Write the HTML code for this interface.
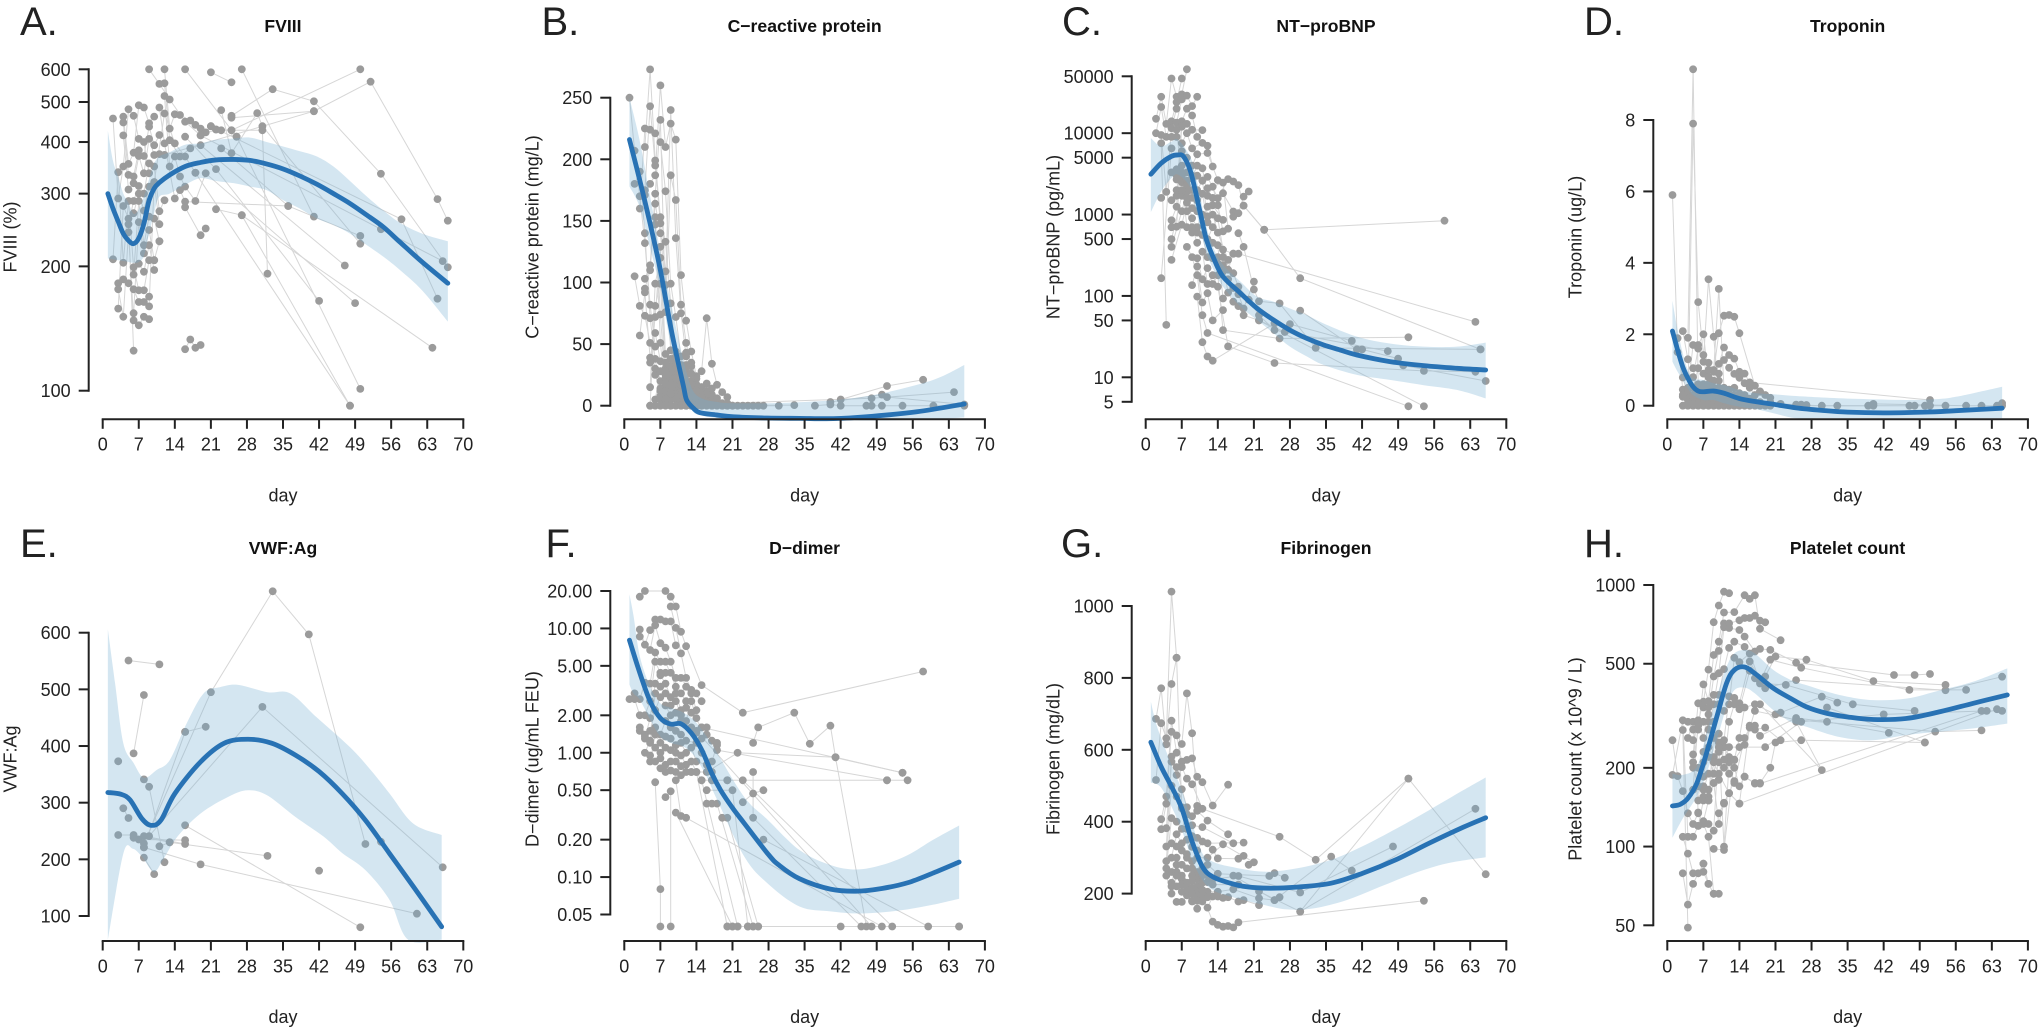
<!DOCTYPE html>
<html lang="en">
<head>
<meta charset="utf-8">
<title>Biomarker trajectories by day</title>
<style>
html,body{margin:0;padding:0;background:#fff;}
svg{display:block;font-family:"Liberation Sans",Arial,sans-serif;}
</style>
</head>
<body>
<svg id="figure" xmlns="http://www.w3.org/2000/svg" width="2040" height="1031" viewBox="0 0 2040 1031"></svg>
<script>
const dayTicks = [0,7,14,21,28,35,42,49,56,63,70];

/* ---------- A. FVIII ---------- */
const fviiiTicks = [100,200,300,400,500,600];
const fviiiDays = [1,2,3,4,5,6,7,8,9,10,11,13,16,19,22,25.4,28.6,31.8,35.1,38.3,41.6,44.8,48,51.3,54.5,57.7,62,67];
const fviiiFit = [300,276,257,240,231,227,234,254,289,309,319,333,349,357,362,363,361,354,344,331,316,300,284,266,249,229,205,182];
const fviiiUpper = [426,360,330,300,285,268,275,295,325,355,369,378,394,397,405,408,410,400,390,380,369,349,322,295,273,255,240,230];
const fviiiLower = [209,208,207,206,205,204,205,212,240,270,295,300,315,327,322,318,312,306,289,276,261,252,240,225,211,196,175,147];
const fviiiTracks = [
[2,456,3,292,4,349,5,480,6,463,7,407,8,400,9,336],
[2,208,3,338,4,204,5,288,6,199,7,175],
[3,182,4,186,5,182,6,176,7,164,8,164,9,169],
[3,176,4,151,5,242,6,148,7,144,8,151,9,149],
[3,158,4,280,5,261,6,125],
[4,461,5,354,6,377,7,491,8,485,9,444,10,461],
[4,446,5,333,6,330,7,382,8,370,9,436,10,393,11,416],
[4,415,5,307,6,318,7,370,8,336,9,407,10,372,11,374,12,372],
[5,253,6,288,7,313,8,300,9,355,10,349,11,272,12,289],
[6,269,7,300,8,273,9,312,10,320,11,253],
[6,191,7,288,8,225,9,264,10,261,11,230],
[6,154,7,256,8,215,9,245,10,207],
[7,203,8,194,9,225,10,196],
[8,175,9,207,10,207,11,230],
[9,600,11,553,13,507,16,448,19,415,22,429,25,427],
[9,160,10,320,12,469,14,397,16,369,18,337],
[12,600,13,431,14,467,15,465,17,451,18,440,19,431,20,422,21,437,22,429],
[12,555,13,404,15,369,17,386,19,393,47,201],
[12,517,13,349,14,369,15,330,16,312,18,288,20,336,49,163],
[11,485,12,397,14,292,15,306,16,287,36,280],
[16,600,26,412],
[21,590,25,558],
[27,600,41,264],
[16,412,22,344,42,165],
[16,278,19,238,20,247],
[16,126,17,133,18,127,19,129],
[23,478,25,376,30,470,31,437,50,227],
[25,463,33,537,41,502,54,335,67,199],
[25,458,41,475,52,560,65,291,67,258],
[25,427,50,600],
[23,427,31,427,32,192],
[23,386,36,280,50,237],
[26,412,50,101],
[22,275,27,266,48,92],
[18,337,48,92],
[19,415,54,246,66,206],
[21,437,58,260,65,167],
[27,266,64,127],
[12,372,41,475]
];

/* ---------- B. C-reactive protein ---------- */
const crpTicks = [0,50,100,150,200,250];
const crpDays = [1,3,5,7,9,10.2,11.5,12.1,13.4,14.7,17.9,21.2,27.7,34,40.6,47,56.8,66];
const crpFit = [216,183,148,110,64,40,15.5,4.6,-2,-5.7,-7.5,-9,-10,-10.3,-10.5,-9,-4.9,1.4];
const crpBandDays = [1,3,5,7,9,11,13,15,18,21,28,35,42,50,60,66];
const crpUpper = [250,215,170,125,85,45,15,6,3,2,2,3,5,10,21,33];
const crpLower = [178,161,128,95,50,20,-3,-8,-10,-11,-12,-12,-12,-12,-11,-9.5];
const crpTracks = [
[1,250,2,207,3,170,4,132,5,82,6,48],
[2,180,3,190,4,140,5,71,6,38,7,14],
[2,105,3,81,4,73,5,51,6,30,7,20,8,8,9,0],
[3,160,4,225,5,224,6,221,7,214,8,174,9,99,10,72,11,40,12,20,13,5,14,0],
[3,57,4,92,5,39,6,25,7,12,8,3],
[4,210,5,273,6,199,7,153,8,133,9,83,10,40,11,25,12,10,13,0],
[4,175,5,243,6,195,7,148,8,109,9,45,10,22,11,12,12,0],
[4,171,5,180,6,187,7,260,8,210,9,229,10,216,11,106,12,69,13,44,14,24,15,15,16,5,17,0],
[4,103,5,114,6,172,7,232,8,76,9,187,10,167,11,82,12,51,13,32,14,10,15,0],
[4,95,5,110,6,164,7,140,8,98,9,240,10,136,11,75,12,40,13,20,14,5],
[5,35,6,72,7,129,8,42,9,25,10,12,11,3,12,0],
[5,15,6,99,7,120,8,30,9,20,10,15,11,8,12,2],
[5,0,6,81,7,99,8,22,9,14,10,6,11,0],
[6,153,7,74,8,15,9,32,10,25,11,18,12,10,13,2,14,0],
[6,147,7,51,8,10,9,8,10,30,11,33,12,28,13,14,14,6,15,0],
[6,59,7,36,8,35,9,38,10,44,11,28,12,43,13,35,14,22,15,28,16,71,17,34,18,17,19,11,20,7,21,0],
[6,5,7,28,8,25,9,12,10,35,11,22,12,15,13,20,14,14,15,15,16,12,17,5,18,1,19,0],
[7,5,8,18,9,5,10,18,11,14,12,25,13,10,14,17,15,10,16,18,17,9,18,3,20,0],
[7,8,8,5,9,17,10,9,11,17,12,6,13,26,14,12,15,5,16,10,17,14,18,6,19,2],
[8,12,9,28,10,5,11,9,12,17,13,8,14,3,15,7,16,3,17,1],
[8,28,9,10,10,22,11,30,12,33,13,17,14,8,15,3,16,1],
[5,0,6,0,7,0,8,0,9,0,10,0,11,0,12,0,13,0,14,0,15,0,16,0,17,0,18,0,19,0,20,0,21,0,22,0,23,0,24,0,25,0,26,0,27,0,30,0],
[14,0,33,0.5],
[37,0,40,1,42,0,47,0,48,0,50,0,54,0,60,0,66,0],
[42,5,51,16,58,21],
[40,3,50,9,51,7,66,1],
[20,2,48,6,64,11]
];

/* ---------- C. NT-proBNP ---------- */
const bnpTicks = [5,10,50,100,500,1000,5000,10000,50000];
const bnpDays = [1,3,5,6.3,7.3,8.6,9.6,10.6,11.8,13.2,15,18.4,21.6,24.8,28,31.3,34.5,37.7,41,47.4,54,60.4,66];
const bnpFit = [3130,4275,5200,5400,5200,3550,2010,1040,489,290,173,108,70.6,50.7,38,30,25,21.7,18.8,15.6,13.9,12.9,12.3];
const bnpBandDays = [1,3,5,6.3,8.6,9.6,10.6,11.8,13.2,15,18.4,21.6,24.8,28,31.3,34.5,41,47.4,54,60.4,66];
const bnpUpper = [8700,6900,7900,8300,5200,3200,1670,712,385,241,150,98,85,70,58,46,31.6,26,23.8,23.8,26.7];
const bnpLower = [1070,1920,2800,3100,2200,1250,650,335,208,130,74,50.7,34.8,23.8,18,14.2,10.7,9.3,8,7,5.5];
const bnpTracks = [
[2,15000,3,28000,4,13000,5,47000,6,28000],
[2,10000,3,21000,4,9000,5,14000,6,24000,7,47000],
[3,9500,4,1900,5,11500,6,20000,7,30000,8,61000],
[3,7500,4,44],
[3,1600,5,3300,6,2700,7,2500],
[3,165,5,6500],
[5,9000,6,13500,7,26000,8,29000,9,21500,10,28000],
[5,1500,6,1700,7,14000,8,20000,9,16500,10,9000],
[5,850,6,1250,7,12000,8,13000,9,11000,11,10900],
[5,700,6,710,7,7500,8,10000,9,6500,11,7600,12,7000,13,3900],
[5,500,7,1700,8,3300,9,4000,10,5500,12,5700,14,2650],
[5,400,7,1100,8,1900,9,2000,10,3000,12,2900,14,1590,16,2730,17,2550,18,2300,19,1290,23,650],
[5,277,7,750,8,1400,9,1200,10,1500,12,2100,15,2470,16,670],
[6,11000,8,700,9,600,10,600,12,1250,13,1600,15,1830,17,1090],
[6,9000,7,6000,8,5000,9,3000,10,2000,11,2600,12,950,13,1300,15,860],
[6,3000,7,4000,8,2600,9,2800,10,4000,11,3700,12,1700,13,2200,14,1300,15,620],
[6,3600,7,3300,8,2300,9,1600,10,1100,11,1800,12,800,13,1000,14,600,16,277],
[6,2000,7,2000,8,1600,9,900,10,700,11,1000,12,500,13,700,14,900,15,370,17,330],
[7,3000,8,1100,9,700,10,450,11,560,12,300,13,450,14,420,15,93],
[9,136,10,230,11,83,12,108,13,50,15,67],
[8,400,9,300,10,180,11,58,12,35,51,4.4],
[10,98,11,27,12,18,13,16,25,46],
[10,290,11,160,12,220,13,140,14,180,15,38,26,30,51,31],
[11,350,12,140,13,180,14,130,16,24,25,15,54,12,64,11.7],
[13,290,14,250,15,200,16,160,17,125,18,105,19,70,21,150],
[14,300,15,240,16,110,17,85,18,75,19,58,22,50,27,36],
[15,300,17,190,18,130,20,90,22,58,25,38,47,21],
[16,210,17,330,18,330,64,48],
[17,940,18,1040,19,1660,20,1920],
[18,590,19,400,21,120,22,86,26,81,33,23,65,22],
[19,1290,23,650,30,165,65,22],
[23,650,58,840],
[30,66,41,22,42,22,49,17,50,14,66,9],
[28,45,40,28],
[22,50,54,4.4]
];

/* ---------- D. Troponin ---------- */
const tropTicks = [0,2,4,6,8];
const tropDays = [1,2,3,4,5,6,7,9,11,14,17.3,20.6,25,30,35,42,50,56,65];
const tropFit = [2.09,1.56,1.09,0.77,0.53,0.41,0.39,0.41,0.35,0.2,0.11,0.04,-0.06,-0.13,-0.18,-0.2,-0.18,-0.14,-0.07];
const tropBandDays = [1,2,3,4,5,7,9,11,14,17.3,20.6,25,30,37,46.5,53,56,59.4,65];
const tropUpper = [2.94,2.12,1.47,1,0.77,0.72,0.63,0.58,0.44,0.35,0.32,0.27,0.23,0.19,0.16,0.19,0.25,0.35,0.53];
const tropLower = [1.23,0.95,0.72,0.49,0.3,0.16,0.16,0.07,-0.03,-0.1,-0.21,-0.35,-0.35,-0.35,-0.35,-0.35,-0.35,-0.35,-0.35];
const tropTracks = [
[1,5.9,2,1.5,3,0.79,4,0.3,5,0.1],
[2,1.89,3,0.45,4,0.5,5,0.3],
[3,2.09,4,1.3,5,1.05,6,0.3],
[4,1.9,5,9.42,6,0.6,7,0.2],
[4,0.2,5,7.9,6,2.9,7,1.42,8,0.4],
[3,0.25,4,0.45,5,1.7,6,1.7,7,2,8,0.8,9,0.2],
[5,0.8,6,1.6,7,1.23,8,3.54,9,1.93,10,0.3],
[5,0.5,6,1.05,7,0.9,8,1.2,9,1,10,3.27,11,0.5],
[6,0.5,7,0.6,8,1,9,0.95,10,2.03,11,2.52,12,2.54,13,2.49,14,2.03,17,0.56,18,0.39,19,0.3,20,0.22],
[7,0.5,8,0.8,9,0.7,10,1.17,11,1.63,12,1.42,13,1.32,14,0.95,15,0.9,16,0.65,18,0.4],
[8,0.6,9,0.5,10,0.9,11,1.28,12,1.06,13,0.89,14,0.78,15,0.63,16,0.5,17,0.3],
[8,0.3,9,0.35,10,0.7,11,0.4,12,0.45,13,0.5,14,0.35,15,0.3,16,0.2,17,0.1],
[7,0.35,9,0.25,10,0.5,11,0.3,12,0.2,13,0.3,14,0.15,15,0.15,16,0.1,18,0.1],
[6,0.15,7,0.1,8,0.2,9,0.4,10,0.15,11,0.15,12,0.1,13,0.12,14,0.1],
[3,0,4,0,5,0,6,0,7,0,8,0,9,0,10,0,11,0,12,0,13,0,14,0,15,0,16,0,17,0,18,0,19,0,20,0],
[3,0.3,4,0.15,5,0.15,6,0.1,7,0.15,8,0.1,9,0.1,10,0.1,11,0.05,12,0.05,13,0.05],
[4,0.05,5,0.05,6,0.05,7,0.05,8,0.05,9,0.05,10,0.05],
[16,0.65,51,0.16],
[20,0.1,22,0.05,25,0.03,26,0.03,27,0.02],
[20,0.05,30,0,33,0,39,0,40,0],
[27,0,47,0,48,0,50,0,51,0,54,0],
[40,0.05,58,0,61,0,64,0,65,0,65,0.07]
];

/* ---------- E. VWF:Ag ---------- */
const vwfTicks = [100,200,300,400,500,600];
const vwfDays = [1,3.5,5.3,7.6,9.4,11.3,14,19,23.6,28.2,32.8,37.4,42,46.5,51,55.7,60.3,65.8];
const vwfFit = [318,315,305,272,260,269,316,372,405,412,405,384,355,316,269,210,152,81];
const vwfBandDaysTop = [1,2.4,4,6,8,10.5,13,16.3,19.6,22.8,26.3,32,36.4,41.5,48,52,55.7,60.3,65.8];
const vwfUpper = [606,511,405,370,344,358,375,440,493,504,508,495,493,451,398,358,316,263,243];
const vwfBandDaysBottom = [1,4,5.8,7.6,9.9,11.7,14.5,19,24.5,28.2,31.9,37.4,42.9,46.5,51,55.7,59.3,65.8];
const vwfLower = [58,210,219,205,178,199,240,281,311,322,313,275,240,211,181,128,58,58];
const vwfTracks = [
[5,551,11,544],
[6,387,8,490],
[3,373],
[8,341,9,328,12,195],
[4,290,5,273],
[16,425,20,434],
[8,228,21,495,33,673,40,597,51,227],
[9,241,31,469,66,186],
[8,221,16,425],
[3,243,6,243,13,230,32,206],
[6,238,7,235,16,234],
[8,241,16,227],
[8,203,10,174],
[11,223,13,230],
[8,221,19,191,61,104],
[16,260,50,80],
[42,180],
[54,231]
];

/* ---------- F. D-dimer ---------- */
const ddimerTicks = [0.05,0.1,0.2,0.5,1,2,5,10,20];
const ddimerLabels = ["0.05","0.10","0.20","0.50","1.00","2.00","5.00","10.00","20.00"];
const ddimerDays = [1,3,5,7,9,11,13,15,17,18.7,21,23.3,27.8,30,34,40,45,50,55,60,65];
const ddimerFit = [8.05,4.4,2.6,1.9,1.7,1.71,1.44,1.06,0.68,0.5,0.36,0.27,0.155,0.125,0.097,0.08,0.077,0.081,0.09,0.108,0.132];
const ddimerBandDays = [1,1.8,3,5,7,9,11.5,13.7,16,18,23.3,27.8,34,40,45,50,55,60,65];
const ddimerUpper = [18.8,12.6,6,3.4,2.5,2.3,2.1,1.8,1.35,1,0.44,0.29,0.165,0.125,0.115,0.125,0.15,0.2,0.26];
const ddimerLower = [3.53,2.98,2.68,1.85,1.35,1.2,1.12,0.93,0.64,0.42,0.146,0.089,0.058,0.053,0.051,0.052,0.055,0.06,0.067];
const ddimerTracks = [
[3,18,4,20,8,20,9,18,10,15,11,9.4,12,7.2,15,3.5,23,2.1,58,4.5],
[9,15,10,10.1,11,6.3,12,4,13,3.2,15,2.6],
[3,9.8,4,7.4,5,9.7,6,11.8,7,11.8,8,11.4,9,11.4,10,7.3],
[3,8.6,5,6.7,6,10.6,7,7.6,8,7,9,5.4,10,4,11,4,13,3,14,2.2],
[1,2.7,2,3,3,2.7,4,3.65,5,3.6,6,6.4,7,5.4,8,5.4,10,3.4,12,2.6],
[2,2.7,3,2,4,2,5,2.6,6,5.4,7,4.4,8,4.4,9,4.4,11,3,12,3.4,14,3],
[3,1.5,4,1.3,5,1.9,6,3.6,7,4.2,8,3.6,9,2.8,10,3,11,2.2,12,1.8,13,2.6,14,1.9],
[3,1.6,4,1.4,5,1.2,6,3,7,3.4,8,3,9,2.4,10,2.6,11,2,12,2.3,13,2.1,15,1.6,16,1.4,18,1.2],
[4,1.35,5,1.5,6,2.2,7,2.8,8,2.4,9,2,10,2.1,11,1.8,13,1.6,14,1.45,15,1.3,16,1.6,17,1.25],
[4,1,5,1.25,6,1.6,7,1.4,8,1.8,9,1.6,10,1.5,11,1.4,12,1.25,14,1.2,15,1,17,0.85,18,1.15],
[5,0.85,6,1.4,7,1.2,8,1.35,9,1.3,10,1.15,11,1.2,12,1,13,1.1,14,0.85,16,0.8,17,0.7],
[5,0.95,6,1.1,7,1,8,1.1,9,1.05,10,1,11,0.95,12,0.8,13,0.85,14,0.7,15,0.6,17,0.6,20,0.6],
[6,0.85,7,0.9,8,0.8,9,0.85,10,0.85,11,0.78,12,0.7,13,0.7,16,0.7,22,1,41,0.92,54,0.69],
[6,0.58,7,0.08,7,0.04],
[7,0.75,8,0.7,9,0.72,10,0.7,11,0.66,13,0.7],
[8,0.44,9,0.49,9,0.04],
[10,0.6,11,0.31,12,0.3,50,0.04],
[10,0.33,21,0.04],
[14,0.7,20,0.04],
[15,0.6,22,0.04],
[16,0.5,21,0.5,24,0.04],
[16,0.39,17,0.39,18,0.39,25,0.04],
[17,0.6,20,0.6,51,0.6,55,0.6],
[19,0.3,20,0.3,26,0.04],
[20,0.04,21,0.04,22,0.04,24,0.04,25,0.04,26,0.04,42,0.04],
[23,0.4,25,0.47,27,0.5],
[25,0.7,25,0.3,46,0.04],
[25,1.2,26,1.6,33,2.1,36,1.18,40,1.65,41,0.92,47,0.04],
[15,1.6,54,0.69],
[14,1.5,48,0.04],
[18,1.05,51,0.6],
[23,0.6,52,0.04],
[27,0.2,59,0.04,65,0.04],
[24,0.04,65,0.04]
];

/* ---------- G. Fibrinogen ---------- */
const fibTicks = [200,400,600,800,1000];
const fibDays = [1,3,5,7,9,11,13,16.4,19.6,24,29.3,36,42,48.7,55,61.7,66];
const fibFit = [621,553,498,437,345,275,247,229,219,215,218,229,256,295,340,385,411];
const fibBandDaysTop = [1,2,3.4,5.4,7,9,11,13,16.4,22.8,29.3,36,42,48.7,55,61.7,66];
const fibUpper = [734,674,618,544,488,396,312,289,275,261,270,294,331,381,432,488,523];
const fibBandDaysBottom = [1,2.8,4.7,7,9,11,13,16.4,22.8,27.4,32.6,39,45.5,52,58.5,66];
const fibLower = [509,498,451,377,294,238,210,192,169,156,159,182,219,256,284,301];
const fibTracks = [
[2,686,3,771,4,615,5,783,6,856,7,437],
[2,516,3,674,4,632,5,1040,6,856],
[3,407,4,470,5,681,6,592,7,616,8,757,9,646,10,444],
[3,379,4,450,5,650,6,640,7,567,8,572,9,576,10,525,11,510,13,445,16,503],
[4,382,5,581,6,530,7,552,8,520,9,504,11,436,26,358,33,294,51,520,66,254],
[4,331,5,567,6,552,7,490,8,440,9,415,10,430,12,403,16,365],
[4,290,5,500,6,470,7,440,8,380,9,390,11,385,17,340],
[4,270,5,410,6,400,7,380,8,420,9,360,10,355,12,340,19,342],
[5,300,6,365,7,340,8,350,9,330,10,320,11,345,13,322,14,298,18,297,19,305],
[5,340,6,331,7,320,8,310,9,290,10,300,12,300,15,337,21,287,20,280],
[5,260,6,300,7,280,8,300,9,270,10,260,11,270,12,280,14,255,24,249,25,257,27,244],
[5,230,6,280,7,250,8,270,9,250,10,240,11,250,12,250,13,240,18,249,30,203,48,331],
[5,220,6,260,7,240,8,230,9,235,10,220,11,230,12,232,13,225,18,225,22,206,30,150,64,436],
[4,250,5,200,6,250,7,225,8,220,9,215,10,205,11,210,12,205,14,205,17,212,22,187,25,182,26,190],
[6,177,7,177,8,195,9,180,10,158,11,185,12,161,13,192,14,192,15,188,16,190,18,178,19,182,22,168],
[6,220,7,205,8,210,9,200,10,190,11,195,13,122,14,113,15,108,16,110,17,106,18,120,54,180],
[17,250,25,182,36,303,40,264],
[8,230,9,178,10,180,11,178,12,190],
[30,150,51,520]
];

/* ---------- H. Platelet count ---------- */
const pltTicks = [50,100,200,500,1000];
const pltDays = [1,2.5,4,5.7,7.6,9.6,11.5,13,15,17,20.6,24,27,31,35,40,46.5,53,59.4,66];
const pltFit = [143,145,153,174,227,313,421,473,486,459,403,368,342,323,313,306,309,328,353,380];
const pltBandDays = [1,3,5.7,7.6,9.6,11.5,13,15,17,20.6,24,27,31,35,40,46.5,53,59.4,66];
const pltUpper = [190,188,202,270,374,486,547,564,547,473,433,414,391,374,363,368,396,427,480];
const pltLower = [108,128,155,190,255,342,396,405,385,332,299,287,270,259,255,267,275,283,295];
const pltTracks = [
[1,255,2,186,3,163,4,134,5,122,6,134],
[1,188,3,304,4,109,5,109,6,120],
[3,279,4,49],
[3,79,4,60,5,72,6,79,7,86],
[3,109,4,94,5,79,7,80,8,72],
[4,260,5,300,6,135,7,122,8,109,9,66,10,66],
[4,300,5,280,6,300,7,358,8,475,9,721,10,835,11,943,12,930],
[5,210,6,280,7,417,8,360,9,540,10,607,11,785,13,788,15,914,16,885,17,914,18,680,22,615],
[5,225,6,353,7,340,8,320,9,447,10,560,11,713,12,713,14,733,15,748,16,748,17,763,18,730,19,720],
[5,255,6,290,7,300,8,280,9,350,10,460,11,690,12,685,14,673,15,635,17,557,18,570,20,565,25,505,44,453,48,453,51,457],
[5,165,6,304,7,260,8,340,9,380,10,380,11,477,12,575,13,607,15,580,17,440,19,447,21,533,27,518,40,429,54,415],
[6,150,7,230,8,300,9,300,10,350,11,330,12,350,13,527,14,507,16,547,18,427,20,518,26,483,47,397,58,397],
[6,200,7,185,8,240,9,220,10,270,11,255,12,375,13,370,14,353,16,510,19,403,25,433,54,396,65,446],
[6,120,7,150,8,155,9,260,10,210,11,200,12,300,13,350,14,335,16,470,18,420,23,415,36,350,48,330],
[7,210,8,220,9,190,10,230,11,240,12,220,13,215,14,260,15,340,17,350,21,320,22,325,30,374,33,355],
[7,165,8,190,9,175,10,180,11,240,13,200,14,170,15,185,17,175,18,175,20,200,21,250,26,255,50,250],
[7,125,8,150,9,175,10,122,11,147,12,160,14,146,16,290,17,280,19,285,22,255],
[8,122,9,115,10,250,11,100,12,210,13,175,15,260,16,285,17,290,18,265,25,310,31,300,43,272],
[9,98,11,97,13,214,15,245,17,330,25,305,52,275,61,278],
[10,180,12,240,14,240,19,240,26,300,42,320,62,330],
[7,86,8,72,9,66],
[5,200,6,170,7,170,8,165,9,190,10,240,11,215,12,190],
[15,185,17,174,18,174,61,330,65,330],
[25,300,30,196,18,350],
[7,155,8,150,9,210,10,190,12,160,14,146,64,335],
[10,134,11,146,13,178],
[50,250,31,340]
];

const panels = [
 {letter:"A.",letterX:20,row:0,x0:102.7,title:"FVIII",yTitle:"FVIII (%)",scale:"log",anchors:[600,69.3,100,390.7],ticks:fviiiTicks,labels:null,days:fviiiDays,fit:fviiiFit,upDays:fviiiDays,up:fviiiUpper,lowDays:fviiiDays,low:fviiiLower,tracks:fviiiTracks,id:"fviii"},
 {letter:"B.",letterX:541.5,row:0,x0:624.3,title:"C\u2212reactive protein",yTitle:"C\u2212reactive protein (mg/L)",scale:"lin",anchors:[250,97.7,0,405.7],ticks:crpTicks,labels:null,days:crpDays,fit:crpFit,upDays:crpBandDays,up:crpUpper,lowDays:crpBandDays,low:crpLower,tracks:crpTracks,id:"crp"},
 {letter:"C.",letterX:1062,row:0,x0:1145.7,title:"NT\u2212proBNP",yTitle:"NT\u2212proBNP (pg/mL)",scale:"log",anchors:[50000,76.3,5,401.8],ticks:bnpTicks,labels:null,days:bnpDays,fit:bnpFit,upDays:bnpBandDays,up:bnpUpper,lowDays:bnpBandDays,low:bnpLower,tracks:bnpTracks,id:"ntprobnp"},
 {letter:"D.",letterX:1584,row:0,x0:1667.3,title:"Troponin",yTitle:"Troponin (ug/L)",scale:"lin",anchors:[8,120,0,405.7],ticks:tropTicks,labels:null,days:tropDays,fit:tropFit,upDays:tropBandDays,up:tropUpper,lowDays:tropBandDays,low:tropLower,tracks:tropTracks,id:"troponin"},
 {letter:"E.",letterX:20,row:1,x0:102.7,title:"VWF:Ag",yTitle:"VWF:Ag",scale:"lin",anchors:[600,632.7,100,916],ticks:vwfTicks,labels:null,days:vwfDays,fit:vwfFit,upDays:vwfBandDaysTop,up:vwfUpper,lowDays:vwfBandDaysBottom,low:vwfLower,tracks:vwfTracks,id:"vwf"},
 {letter:"F.",letterX:545.5,row:1,x0:624.3,title:"D\u2212dimer",yTitle:"D\u2212dimer (ug/mL FEU)",scale:"log",anchors:[20,591,0.05,914.5],ticks:ddimerTicks,labels:ddimerLabels,days:ddimerDays,fit:ddimerFit,upDays:ddimerBandDays,up:ddimerUpper,lowDays:ddimerBandDays,low:ddimerLower,tracks:ddimerTracks,id:"ddimer"},
 {letter:"G.",letterX:1061,row:1,x0:1145.7,title:"Fibrinogen",yTitle:"Fibrinogen (mg/dL)",scale:"lin",anchors:[1000,606,200,893.6],ticks:fibTicks,labels:null,days:fibDays,fit:fibFit,upDays:fibBandDaysTop,up:fibUpper,lowDays:fibBandDaysBottom,low:fibLower,tracks:fibTracks,id:"fibrinogen"},
 {letter:"H.",letterX:1584,row:1,x0:1667.3,title:"Platelet count",yTitle:"Platelet count (x 10^9 / L)",scale:"log",anchors:[1000,585,50,925.3],ticks:pltTicks,labels:null,days:pltDays,fit:pltFit,upDays:pltBandDays,up:pltUpper,lowDays:pltBandDays,low:pltLower,tracks:pltTracks,id:"platelet"}
];

const NS = "http://www.w3.org/2000/svg";
const figure = document.getElementById("figure");
const INK = "#222222";

function make(parent, tag, props, text) {
  const node = document.createElementNS(NS, tag);
  for (const k in props) node.setAttribute(k, props[k]);
  if (text !== undefined) node.textContent = text;
  parent.appendChild(node);
  return node;
}
function smoothPath(pts, move) {
  let d = (move ? "M" : "L") + pts[0][0].toFixed(2) + " " + pts[0][1].toFixed(2);
  for (let i = 0; i < pts.length - 1; i++) {
    const p0 = pts[Math.max(0, i - 1)], p1 = pts[i], p2 = pts[i + 1], p3 = pts[Math.min(pts.length - 1, i + 2)];
    const c1x = p1[0] + (p2[0] - p0[0]) / 6, c1y = p1[1] + (p2[1] - p0[1]) / 6;
    const c2x = p2[0] - (p3[0] - p1[0]) / 6, c2y = p2[1] - (p3[1] - p1[1]) / 6;
    d += "C" + c1x.toFixed(2) + " " + c1y.toFixed(2) + " " + c2x.toFixed(2) + " " + c2y.toFixed(2) + " " + p2[0].toFixed(2) + " " + p2[1].toFixed(2);
  }
  return d;
}

panels.forEach(function (p) {
  const rowOffset = p.row === 0 ? 0 : 522;
  const axisY = p.row === 0 ? 419.3 : 941;
  const dayPx = 360.6 / 70;
  const xScale = function (day) { return p.x0 + day * dayPx; };
  const f = p.scale === "log" ? Math.log10 : function (v) { return v; };
  const slope = (p.anchors[3] - p.anchors[1]) / (f(p.anchors[2]) - f(p.anchors[0]));
  const yScale = function (v) { return p.anchors[1] + (f(v) - f(p.anchors[0])) * slope; };
  const axisX = p.x0 - 14;
  const centerX = p.x0 + 180.3;

  const g = make(figure, "g", {});
  
  

  const letter = make(g, "text", {x: p.letterX, y: 35 + rowOffset, "font-size": 40, fill: INK}, p.letter);
  
  

  const title = make(g, "text", {x: centerX, y: 32 + rowOffset, "font-size": 17.6, "font-weight": "bold", fill: "#111", "text-anchor": "middle"}, p.title);
  
  

  /* trajectories */
  const linesG = make(g, "g", {fill: "none", stroke: "#d6d6d6", "stroke-width": 1});
  
  
  const dotsG = make(g, "g", {fill: "#9b9b9b"});
  
  
  p.tracks.forEach(function (track) {
    const pts = [];
    for (let i = 0; i + 1 < track.length; i += 2) pts.push([xScale(track[i]), yScale(track[i + 1])]);
    if (pts.length > 1) {
      const line = make(linesG, "polyline", {points: pts.map(function (q) { return q[0].toFixed(1) + "," + q[1].toFixed(1); }).join(" ")});
      
      
    }
    pts.forEach(function (q) {
      const dot = make(dotsG, "circle", {cx: q[0].toFixed(1), cy: q[1].toFixed(1), r: 3.9});
      
      
    });
  });

  /* confidence band */
  const upPts = p.upDays.map(function (d, i) { return [xScale(d), yScale(p.up[i])]; });
  const lowPts = p.lowDays.map(function (d, i) { return [xScale(d), yScale(p.low[i])]; }).reverse();
  const band = make(g, "path", {d: smoothPath(upPts, true) + smoothPath(lowPts, false) + "Z", fill: "#70acd0", "fill-opacity": 0.3, stroke: "none"});
  
  

  /* fitted curve */
  const fitPts = p.days.map(function (d, i) { return [xScale(d), yScale(p.fit[i])]; });
  const fit = make(g, "path", {d: smoothPath(fitPts, true), fill: "none", stroke: "#2872b4", "stroke-width": 4.8, "stroke-linecap": "round", "stroke-linejoin": "round"});
  
  

  /* y axis */
  const yTop = yScale(Math.max.apply(null, p.ticks));
  const yBottom = yScale(Math.min.apply(null, p.ticks));
  const yAxis = make(g, "line", {x1: axisX, x2: axisX, y1: yTop - 1, y2: yBottom + 1, stroke: INK, "stroke-width": 2});
  
  
  p.ticks.forEach(function (v, i) {
    const y = yScale(v);
    const tick = make(g, "line", {x1: axisX - 10, x2: axisX, y1: y, y2: y, stroke: INK, "stroke-width": 2});
    
    
    const label = make(g, "text", {x: axisX - 18, y: y + 6.5, "font-size": 18, fill: INK, "text-anchor": "end"}, p.labels ? p.labels[i] : String(v));
    
    
  });
  const cy = p.row === 0 ? 237 : 759;
  const yTitle = make(g, "text", {x: 0, y: 0, "font-size": 18, fill: INK, "text-anchor": "middle", transform: "translate(" + (axisX - 72) + " " + cy + ") rotate(-90)"}, p.yTitle);
  
  

  /* x axis */
  const xAxis = make(g, "line", {x1: xScale(0) - 1, x2: xScale(70) + 1, y1: axisY, y2: axisY, stroke: INK, "stroke-width": 2});
  
  
  dayTicks.forEach(function (d) {
    const x = xScale(d);
    const tick = make(g, "line", {x1: x, x2: x, y1: axisY, y2: axisY + 9.5, stroke: INK, "stroke-width": 2});
    
    
    const label = make(g, "text", {x: x, y: axisY + 31.3, "font-size": 18, fill: INK, "text-anchor": "middle"}, String(d));
    
    
  });
  const xTitle = make(g, "text", {x: centerX, y: axisY + 82.2, "font-size": 18, fill: INK, "text-anchor": "middle"}, "day");
  
  
});
</script>
</body>
</html>
